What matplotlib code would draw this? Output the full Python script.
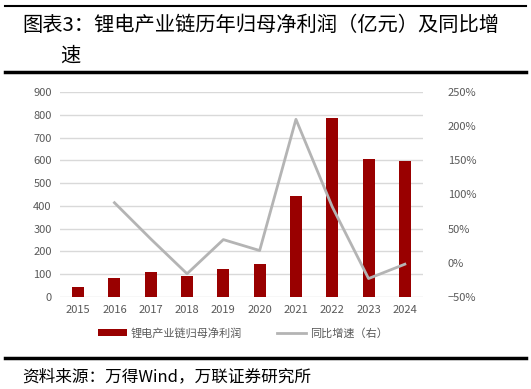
import matplotlib.pyplot as plt
import matplotlib.ticker as mticker

plt.rcParams['font.family'] = ['Noto Sans CJK SC', 'DejaVu Sans']

years = ['2015', '2016', '2017', '2018', '2019', '2020', '2021', '2022', '2023', '2024']
profit = [45, 82, 111, 92, 123, 143, 442, 787, 606, 595]
growth = [None, 88, 35, -16, 34, 18, 210, 82, -23, -2]

bar_color = '#990000'
line_color = '#B4B4B4'
tick_color = '#595959'

fig = plt.figure(figsize=(5.31, 3.89), dpi=100)
ax = fig.add_axes([60 / 531, 1 - 297 / 389, 363 / 531, 205 / 389])
x = list(range(len(years)))
ax.bar(x, profit, width=0.33, color=bar_color, zorder=3, label='锂电产业链归母净利润')
ax.set_ylim(0, 900)
ax.set_yticks(range(0, 901, 100))
ax.set_xlim(-0.5, len(years) - 0.5)
ax.set_xticks(x)
ax.set_xticklabels(years)
ax.grid(axis='y', color='#D9D9D9', linewidth=1, zorder=0)
for s in ax.spines.values():
    s.set_visible(False)
ax.tick_params(length=0, labelsize=8, labelcolor=tick_color, pad=6)

ax2 = ax.twinx()
gx = [i for i, g in zip(x, growth) if g is not None]
gy = [g for g in growth if g is not None]
ax2.plot(gx, gy, color=line_color, linewidth=2, zorder=4, label='同比增速（右）')
ax2.set_ylim(-50, 250)
ax2.set_yticks(range(-50, 251, 50))
ax2.yaxis.set_major_formatter(mticker.FuncFormatter(lambda v, p: f'{v:.0f}%'.replace('-', '−')))
for s in ax2.spines.values():
    s.set_visible(False)
ax2.tick_params(length=0, labelsize=8, labelcolor=tick_color, pad=18)

h1, l1 = ax.get_legend_handles_labels()
h2, l2 = ax2.get_legend_handles_labels()
fig.legend(h1 + h2, l1 + l2, loc='center', bbox_to_anchor=(243 / 531, 1 - 333 / 389),
           ncol=2, frameon=False, fontsize=8, labelcolor=tick_color,
           handlelength=2.6, handleheight=0.6, columnspacing=3.2, handletextpad=0.3)

# title block and rules
fig.add_artist(plt.Line2D([5 / 531, 526 / 531], [1 - 6 / 389] * 2, color='black', linewidth=1.5))
fig.add_artist(plt.Line2D([5 / 531, 526 / 531], [1 - 72 / 389] * 2, color='black', linewidth=2.5))
fig.add_artist(plt.Line2D([5 / 531, 526 / 531], [1 - 358 / 389] * 2, color='black', linewidth=2.5))
fig.text(22 / 531, 1 - 25 / 389, '图表3：锂电产业链历年归母净利润（亿元）及同比增',
         fontsize=14.6, va='center', ha='left', color='black')
fig.text(60 / 531, 1 - 56 / 389, '速', fontsize=14.6, va='center', ha='left', color='black')
fig.text(22 / 531, 1 - 377 / 389, '资料来源：万得Wind，万联证券研究所',
         fontsize=12, va='center', ha='left', color='black', style='italic')

fig.savefig('out.png', dpi=100)
